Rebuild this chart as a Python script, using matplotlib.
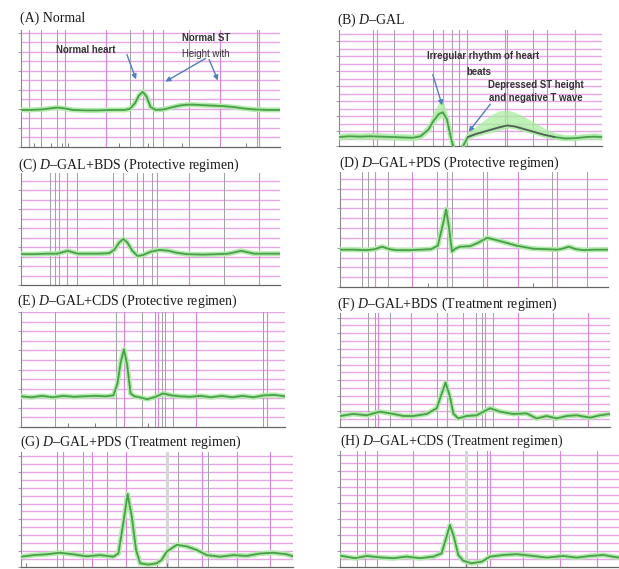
import matplotlib
matplotlib.use("Agg")
import matplotlib.pyplot as plt

plt.rcParams['mathtext.fontset'] = 'custom'
plt.rcParams['mathtext.rm'] = 'Liberation Serif'
plt.rcParams['mathtext.it'] = 'Liberation Serif:italic'

# ---------------- data ----------------
titles = [r"(A) Normal", r"(B) $D$–GAL",
          r"(C) $D$–GAL+BDS (Protective regimen)", r"(D) $D$–GAL+PDS (Protective regimen)",
          r"(E) $D$–GAL+CDS (Protective regimen)", r"(F) $D$–GAL+BDS (Treatment regimen)",
          r"(G) $D$–GAL+PDS (Treatment regimen)", r"(H) $D$–GAL+CDS (Treatment regimen)"]

A_x = [0, 4, 8, 11, 14, 17, 20, 25, 30, 35, 40, 42, 44, 45.5, 47, 48.5, 50, 52, 55, 58, 61, 64, 67, 70, 74, 78, 82, 86, 90, 95, 100]
A_y = [3.9, 3.9, 3.95, 4.05, 4.15, 4.05, 3.9, 3.85, 3.85, 3.9, 3.9, 4.0, 4.6, 5.4, 5.8, 5.3, 4.2, 3.9, 3.95, 4.15, 4.35, 4.45, 4.45, 4.4, 4.35, 4.3, 4.2, 4.05, 3.95, 3.9, 3.9]

B_x = [0, 4, 8, 12, 16, 20, 24, 28, 31, 34, 36, 38, 39.5, 41, 42.5, 44, 46, 47.5, 49, 52, 55, 58, 61, 64, 67, 70, 74, 78, 82, 86, 90, 94, 97, 100]
B_y = [1.2, 1.3, 1.25, 1.3, 1.25, 1.2, 1.15, 1.1, 1.3, 2.2, 3.4, 4.3, 4.5, 3.6, 1.2, -0.8, -1.0, 0.2, 1.2, 1.6, 1.9, 2.2, 2.5, 2.75, 2.6, 2.3, 1.9, 1.5, 1.2, 1.0, 1.05, 1.2, 1.25, 1.2]
B_up = [1.7, 1.8, 1.75, 1.8, 1.75, 1.7, 1.65, 1.6, 1.8, 3.0, 4.6, 5.8, 6.0, 4.6, 2.0, -0.3, -0.5, 0.8, 1.8, 2.6, 3.4, 4.2, 4.7, 4.8, 4.5, 4.0, 3.2, 2.4, 1.8, 1.5, 1.5, 1.7, 1.75, 1.7]
B_lo = [0.8, 0.9, 0.85, 0.9, 0.85, 0.8, 0.75, 0.7, 0.9, 1.8, 2.8, 3.6, 3.8, 3.0, 0.6, -1.2, -1.4, -0.2, 0.9, 1.3, 1.6, 1.8, 2.1, 2.4, 2.3, 2.0, 1.6, 1.2, 0.9, 0.7, 0.7, 0.9, 0.9, 0.8]
B_dark_x = [49, 52, 55, 58, 61, 64, 67, 70, 74, 78, 82]
B_dark_y = [1.2, 1.6, 1.9, 2.2, 2.5, 2.75, 2.6, 2.3, 1.9, 1.5, 1.2]

C_x = [0, 5, 10, 14, 16, 18, 20, 22, 26, 30, 34, 36, 38, 39.5, 41, 43, 45, 47, 50, 53.5, 57, 60, 64, 70, 76, 80, 82.5, 85, 87.5, 90, 95, 100]
C_y = [3.25, 3.25, 3.3, 3.3, 3.45, 3.6, 3.45, 3.3, 3.3, 3.3, 3.35, 3.7, 4.5, 4.85, 4.5, 3.6, 3.05, 3.15, 3.5, 3.7, 3.6, 3.4, 3.25, 3.2, 3.25, 3.3, 3.45, 3.6, 3.45, 3.3, 3.3, 3.3]

D_x = [0, 5, 10, 13, 15.7, 18.5, 21, 26, 30, 34, 36.5, 38.5, 39.6, 40.7, 41.8, 43, 44.8, 48.5, 51.5, 54.9, 58, 62, 66, 72, 77, 81, 83, 85.4, 88, 91, 95, 100]
D_y = [3.8, 3.8, 3.75, 3.85, 4.1, 3.85, 3.75, 3.75, 3.8, 3.85, 4.2, 6.5, 7.9, 6.0, 3.6, 3.9, 4.1, 4.15, 4.5, 5.0, 4.8, 4.5, 4.2, 3.9, 3.85, 3.8, 3.9, 4.1, 3.85, 3.75, 3.8, 3.8]

E_x = [0, 4, 8, 12, 16, 20, 24, 28, 32, 35, 36.5, 37.8, 39, 40.2, 41.5, 43, 45, 47.7, 50.5, 53.8, 57, 60.2, 64, 68, 72, 76, 80, 84, 88, 92, 96, 100]
E_y = [3.2, 3.1, 3.25, 3.1, 3.25, 3.15, 3.2, 3.25, 3.2, 3.3, 4.5, 6.8, 8.1, 6.5, 3.5, 3.2, 3.1, 2.9, 3.1, 3.5, 3.3, 3.2, 3.15, 3.25, 3.1, 3.25, 3.1, 3.25, 3.1, 3.3, 3.35, 3.2]

F_x = [0, 4.9, 9.9, 14.8, 19.8, 23.5, 27.2, 32.1, 35.8, 37.7, 39.1, 40.7, 42, 43.8, 46.9, 50.6, 55.6, 59.3, 64.2, 69.1, 72.8, 76.5, 80.2, 83.9, 87.7, 92.6, 96.3, 100]
F_y = [1.41, 1.67, 1.5, 1.96, 1.67, 1.41, 1.41, 1.67, 2.4, 4.3, 5.7, 3.9, 1.7, 1.1, 1.41, 1.5, 2.4, 1.96, 1.67, 1.75, 1.1, 1.41, 1.1, 1.41, 1.5, 1.2, 1.5, 1.67]

G_x = [0, 4.7, 9.4, 14.3, 19.2, 24.1, 29, 33.9, 35.8, 37.6, 39.2, 40.7, 42.3, 43.8, 46.8, 49.9, 51.7, 53.6, 57.3, 60.9, 64.6, 68.3, 73.2, 78.1, 83, 87.9, 92.8, 97.7, 100]
G_y = [1.3, 1.5, 1.6, 1.8, 1.6, 1.35, 1.5, 1.3, 1.7, 5.5, 9.2, 6.4, 2.15, 0.47, 0.3, 0.47, 0.9, 1.94, 2.8, 2.6, 2.15, 1.5, 1.3, 1.5, 1.4, 1.7, 1.8, 1.6, 1.35]

H_x = [0, 5.4, 9.6, 14.3, 19.1, 23.9, 28.7, 33.5, 36.4, 38.2, 39.4, 40.8, 42.4, 44.1, 47.1, 50.8, 53.8, 58.5, 63.3, 69.3, 74.1, 80, 84.8, 89.6, 94.4, 100]
H_y = [1.42, 1.1, 1.38, 1.2, 1.1, 1.3, 1.1, 1.3, 1.7, 3.8, 5.25, 3.8, 1.5, 0.8, 0.46, 0.67, 1.3, 1.5, 1.6, 1.38, 1.17, 1.38, 1.17, 1.38, 1.5, 1.17]

traces_x = [A_x, B_x, C_x, D_x, E_x, F_x, G_x, H_x]
traces_y = [A_y, B_y, C_y, D_y, E_y, F_y, G_y, H_y]

# marker lines (x positions in trace units)
vmag = [[3, 17, 33, 47, 77, 92],
        [14.4, 28, 39.5, 64, 89.7],
        [17.8, 39.4, 64.9, 91.9],
        [13.1, 26.9, 39.9, 54.9, 66.4, 81],
        [39, 51.9, 66.3, 93.2],
        [14.1, 26.3, 39.6, 53.7, 65.9, 78.9, 91.9],
        [15.4, 26.1, 38.6, 66.5, 79.4, 91.5],
        [26.2, 53.8, 65.6, 78.9, 92.1]]
vgray = [[7.7, 14, 42, 51, 55, 65, 91],
         [12.9, 21, 35.7, 43, 45.6, 48.7, 63, 73.8, 79],
         [11.2, 13.1, 14.7, 21.6, 35.5, 44.8, 47.1, 50.6, 52.5, 78.4],
         [8.2, 10.4, 17.9, 36.2, 41.8, 53.4, 79.1, 92.2],
         [12.9, 36, 45.8, 50.8, 53.4, 54.5, 57.6, 91.7],
         [10.4, 13, 18.5, 35.9, 45.6, 50.4, 52.6, 56.7],
         [13.2, 22.8, 31.6, 57.7, 68.8],
         [6.1, 9, 13.3, 39.1, 49.1, 52.7]]
vthick = [[], [], [], [], [], [], [53.7], [45.2]]
xticks = [[5, 11.5, 16, 18, 38, 47, 49, 62, 77, 87],
          [13, 14.4, 28, 35.7, 39.5, 45.6, 63, 79, 89.7],
          [11.2, 13.1, 17.8, 39.4, 44.8, 47.1, 50.6, 52.5, 64.9, 91.9],
          [8.2, 10.4, 13.1, 33, 39.9, 41.8, 53.4, 72],
          [12.9, 17.8, 28, 36, 39, 45.8, 48, 51.9, 57.6, 66.3, 93.2],
          [10.4, 13, 14.1, 18.5, 36, 39.6, 45.6, 50.4, 65.9, 91.9],
          [2, 13.2, 22.8, 31.6, 38.6, 50, 53.7, 66.5, 91.5],
          [9, 13.3, 26.2, 39.1, 45.2, 49.1, 52.7]]
ytops = [12.3, 15.5, 11.8, 11.7, 12.0, 14.6, 14.5, 14.5]

# ---------------- layout ----------------
W, H = 619, 569
fig = plt.figure(figsize=(W / 100, H / 100), dpi=100)
boxes = [(21, 30, 280, 147), (339, 30, 602, 146),
         (21, 173, 280, 285), (340, 172, 608, 287),
         (21, 312, 285, 427), (340, 313, 610, 427),
         (21, 452, 293, 567), (340, 451, 619, 567)]
title_pos = [(20, 18), (337, 20), (18, 165), (339, 163),
             (17, 301), (337, 304), (20, 442), (340, 441)]

MAG_V = '#d788d7'
MAG_H = '#e8a6e8'
GRAY = '#a3a3a3'
GREEN = '#48a048'
GLOW = '#b2eaab'

axes = []
for i, (x0, y0, x1, y1) in enumerate(boxes):
    ax = fig.add_axes([x0 / W, 1 - y1 / H, (x1 - x0) / W, (y1 - y0) / H])
    axes.append(ax)
    ax.set_xlim(0, 100)
    ax.set_ylim(0, ytops[i])
    for k in range(1, int(ytops[i]) + 1):
        ax.axhline(k, color=MAG_H, lw=1.0, zorder=1)
    for v in vthick[i]:
        ax.axvline(v, color='#d6d6d6', lw=2.2, zorder=1)
    for v in vgray[i]:
        ax.axvline(v, color=GRAY, lw=0.75, zorder=2)
    for v in vmag[i]:
        ax.axvline(v, color=MAG_V, lw=0.85, zorder=2)
    for s in ['top', 'right']:
        ax.spines[s].set_visible(False)
    ax.spines['left'].set_color('#8a8a8a')
    ax.spines['left'].set_linewidth(0.8)
    ax.spines['bottom'].set_color('#666666')
    ax.spines['bottom'].set_linewidth(0.9)
    ax.set_xticks(xticks[i])
    ax.set_xticklabels([])
    ax.set_yticks(list(range(0, int(ytops[i]) + 1, 2)))
    ax.set_yticklabels([])
    ax.tick_params(axis='x', direction='in', length=3, width=0.6, color='#666666')
    ax.tick_params(axis='y', direction='out', length=2, width=0.6, color='#8a8a8a')
    ax.set_facecolor('white')

    if i == 1:
        ax.fill_between(B_x, B_lo, B_up, color='#a8ee9f', alpha=0.75, lw=0, zorder=3)
    ax.plot(traces_x[i], traces_y[i], color=GLOW, lw=3.6, solid_capstyle='round', zorder=4)
    ax.plot(traces_x[i], traces_y[i], color=GREEN, lw=1.3, zorder=5)
    if i == 1:
        ax.plot(B_dark_x, B_dark_y, color='#5a5560', lw=1.0, zorder=6)

for t, (tx, ty) in zip(titles, title_pos):
    fig.text(tx / W, 1 - ty / H, t, ha='left', va='center',
             fontsize=10, family='Liberation Serif', color='#1a1a1a')

# ---------------- annotations ----------------
ann_font = dict(fontsize=6.9, fontweight='bold', family='Liberation Sans', color='#333333')
arrow_kw = dict(arrowstyle='-|>', color='#4f7fbd', lw=1.0, mutation_scale=7)

def P(x, y):
    return (x, H - y)

fig.text(86 / W, 1 - 50 / H, "Normal heart", ha='center', va='center', **ann_font)
fig.text(206 / W, 1 - 38 / H, "Normal ST", ha='center', va='center', **ann_font)
fig.text(206 / W, 1 - 54 / H, "Height with", ha='center', va='center',
         fontsize=6.9, family='Liberation Sans', color='#333333')
fig.text(483 / W, 1 - 56 / H, "Irregular rhythm of heart", ha='center', va='center', **ann_font)
fig.text(479 / W, 1 - 72 / H, "beats", ha='center', va='center', **ann_font)
fig.text(536 / W, 1 - 85 / H, "Depressed ST height", ha='center', va='center', **ann_font)
fig.text(536 / W, 1 - 98 / H, "and negative T wave", ha='center', va='center', **ann_font)

arrows = [((126, 52), (137, 82)), ((208, 57), (163, 83)), ((208, 57), (219, 83)),
          ((432, 72), (443, 108)), ((492, 102), (467, 134))]
for (s, e) in arrows:
    fig.add_artist(matplotlib.patches.FancyArrowPatch(P(*s), P(*e), transform=None, **arrow_kw))

fig.savefig("out.png", dpi=100)
